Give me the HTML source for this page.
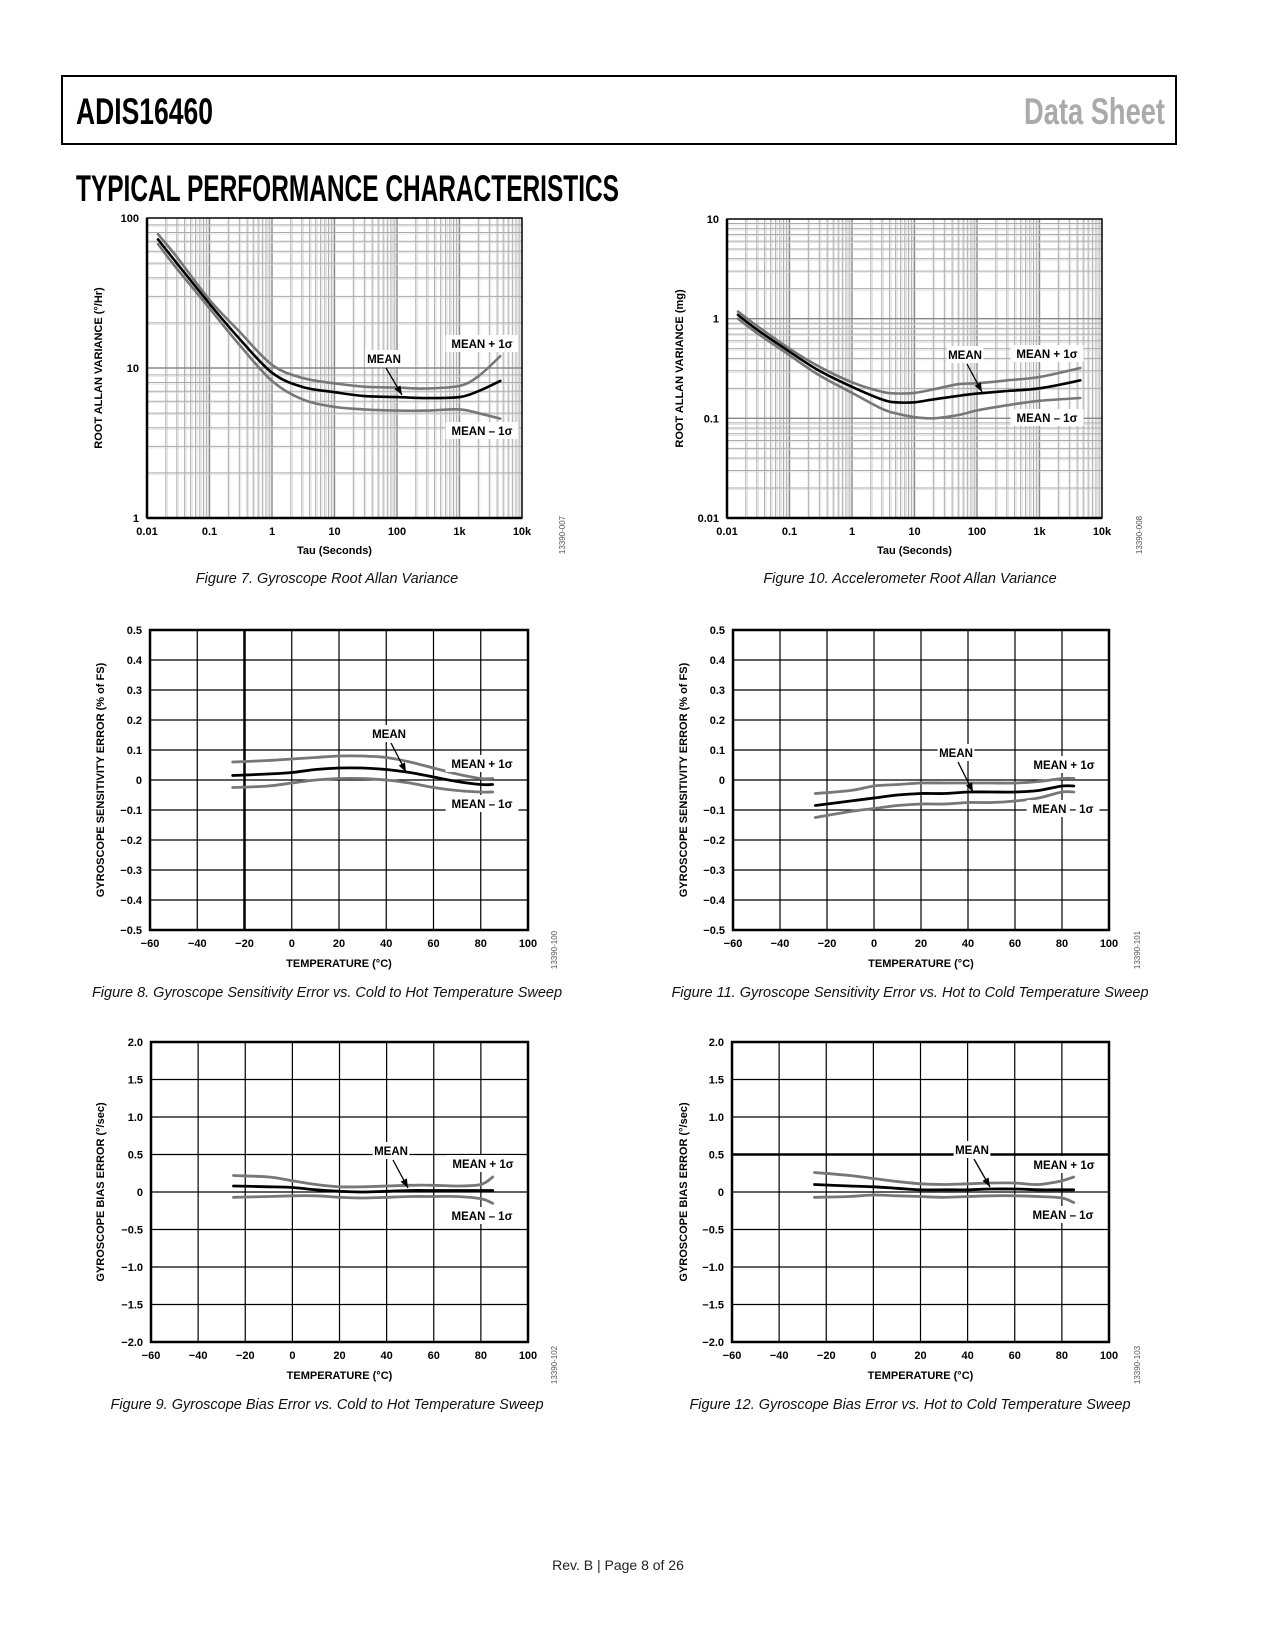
<!DOCTYPE html>
<html><head><meta charset="utf-8"><title>ADIS16460 Typical Performance Characteristics</title>
<style>
html,body{margin:0;padding:0;background:#fff;}
svg{display:block;font-family:"Liberation Sans",Arial,sans-serif;}
.tk{font-size:11px;font-weight:bold;fill:#000;}
.at{font-size:11px;font-weight:bold;fill:#000;}
.cap{font-size:14.5px;font-style:italic;fill:#111;}
.lb{font-size:11.5px;font-weight:bold;fill:#000;}
.code{font-size:8px;fill:#555;}
</style></head>
<body>
<svg id="page" width="1275" height="1650" viewBox="0 0 1275 1650" xmlns="http://www.w3.org/2000/svg">
<rect x="0" y="0" width="1275" height="1650" fill="#fff"/>
<rect x="62" y="76" width="1114" height="68" fill="none" stroke="#000" stroke-width="2"/>
<text x="76" y="124" font-size="37" font-weight="bold" textLength="137" lengthAdjust="spacingAndGlyphs">ADIS16460</text>
<text x="1024" y="124" font-size="37" font-weight="bold" fill="#aaa" textLength="141" lengthAdjust="spacingAndGlyphs">Data Sheet</text>
<text x="76" y="201" font-size="37" font-weight="bold" textLength="543" lengthAdjust="spacingAndGlyphs">TYPICAL PERFORMANCE CHARACTERISTICS</text>
<text x="618" y="1570" font-size="14" text-anchor="middle" fill="#222">Rev. B | Page 8 of 26</text>
<g id="charts"></g>
</svg>
<script>
// ---- Figure 7: gyro Allan variance ----
const f7Tau   = [0.015,0.03,0.1,0.3,1,3,10,30,100,300,1000,2000,4500];
const f7Upper = [78,55,28.5,17.5,10.5,8.6,7.9,7.5,7.4,7.3,7.6,8.8,12];
const f7Mean  = [72,50,26.8,15.7,9.3,7.5,6.9,6.5,6.4,6.3,6.4,7.0,8.2];
const f7Lower = [67,46,25,14.3,8.2,6.2,5.5,5.3,5.2,5.2,5.3,5.0,4.6];
// ---- Figure 10: accel Allan variance ----
const f10Tau   = [0.015,0.03,0.1,0.3,1,3,5,10,20,50,100,300,1000,4500];
const f10Upper = [1.18,0.85,0.5,0.33,0.23,0.185,0.178,0.18,0.195,0.22,0.225,0.24,0.26,0.32];
const f10Mean  = [1.09,0.78,0.466,0.3,0.207,0.155,0.145,0.145,0.155,0.168,0.177,0.188,0.2,0.24];
const f10Lower = [1.0,0.72,0.43,0.27,0.18,0.125,0.112,0.103,0.1,0.108,0.12,0.135,0.15,0.16];
// ---- temperature sweeps ----
const temps = [-25,-10,0,10,20,30,40,50,60,70,80,85];
const f8Upper = [0.06,0.065,0.07,0.075,0.08,0.08,0.075,0.06,0.04,0.02,0.005,0.005];
const f8Mean  = [0.015,0.02,0.025,0.035,0.04,0.04,0.035,0.025,0.01,-0.005,-0.015,-0.015];
const f8Lower = [-0.025,-0.02,-0.01,0,0.005,0.005,0,-0.01,-0.025,-0.035,-0.04,-0.04];
const f11Upper = [-0.045,-0.035,-0.02,-0.015,-0.01,-0.01,-0.01,-0.01,-0.01,-0.005,0.005,0.005];
const f11Mean  = [-0.085,-0.07,-0.06,-0.05,-0.045,-0.045,-0.04,-0.04,-0.04,-0.035,-0.02,-0.02];
const f11Lower = [-0.125,-0.105,-0.095,-0.085,-0.08,-0.08,-0.075,-0.075,-0.07,-0.06,-0.04,-0.04];
const f9Upper = [0.22,0.2,0.15,0.1,0.07,0.07,0.08,0.09,0.09,0.08,0.1,0.2];
const f9Mean  = [0.08,0.07,0.06,0.03,0.01,0,0.01,0.02,0.02,0.02,0.02,0.02];
const f9Lower = [-0.07,-0.06,-0.05,-0.05,-0.07,-0.08,-0.07,-0.06,-0.06,-0.06,-0.09,-0.15];
const f12Upper = [0.26,0.22,0.18,0.14,0.11,0.1,0.11,0.12,0.12,0.1,0.15,0.2];
const f12Mean  = [0.1,0.08,0.07,0.05,0.03,0.03,0.03,0.04,0.04,0.03,0.03,0.03];
const f12Lower = [-0.07,-0.06,-0.04,-0.05,-0.06,-0.07,-0.06,-0.05,-0.05,-0.06,-0.08,-0.14];
// tick labels
const logXTicks = ["0.01","0.1","1","10","100","1k","10k"];
const f7YTicks = ["1","10","100"];
const f10YTicks = ["0.01","0.1","1","10"];
const tempTicks = ["\u221260","\u221240","\u221220","0","20","40","60","80","100"];
const sensTicks = ["\u22120.5","\u22120.4","\u22120.3","\u22120.2","\u22120.1","0","0.1","0.2","0.3","0.4","0.5"];
const biasTicks = ["\u22122.0","\u22121.5","\u22121.0","\u22120.5","0","0.5","1.0","1.5","2.0"];

const NS="http://www.w3.org/2000/svg";
const root=document.getElementById('charts');
function mk(tag,attrs,parent){const e=document.createElementNS(NS,tag);for(const k in attrs)e.setAttribute(k,attrs[k]);(parent||root).appendChild(e);return e;}
function txt(s,attrs,parent){const e=mk('text',attrs,parent);e.textContent=s;return e;}

function series(g,xs,ys,sx,sy,color,w,name){
  const P=xs.map((x,i)=>[sx(x),sy(ys[i])]);
  let d='M'+P[0][0].toFixed(1)+','+P[0][1].toFixed(1);
  for(let i=0;i<P.length-1;i++){
    const p0=P[Math.max(0,i-1)],p1=P[i],p2=P[i+1],p3=P[Math.min(P.length-1,i+2)];
    const c1=[p1[0]+(p2[0]-p0[0])/6,p1[1]+(p2[1]-p0[1])/6];
    const c2=[p2[0]-(p3[0]-p1[0])/6,p2[1]-(p3[1]-p1[1])/6];
    d+=`C${c1[0].toFixed(1)},${c1[1].toFixed(1)} ${c2[0].toFixed(1)},${c2[1].toFixed(1)} ${p2[0].toFixed(1)},${p2[1].toFixed(1)}`;
  }
  const p=mk('path',{d:d,fill:'none',stroke:color,'stroke-width':w,'stroke-linejoin':'round','stroke-linecap':'round'},g);
  
  
}
function label(g,s,x,y,name){
  const w=s.length*7.2+8;
  mk('rect',{x:x-w/2,y:y-9,width:w,height:17,fill:'#fff'},g);
  const t=txt(s,{x:x,y:y+4,'text-anchor':'middle',class:'lb'},g);
  
  
}
function arrow(g,x1,y1,x2,y2){
  mk('line',{x1:x1,y1:y1,x2:x2,y2:y2,stroke:'#000','stroke-width':1.3},g);
  const a=Math.atan2(y2-y1,x2-x1),L=9,W=3.5;
  const bx=x2-L*Math.cos(a),by=y2-L*Math.sin(a);
  mk('polygon',{points:`${x2},${y2} ${bx-W*Math.sin(a)},${by+W*Math.cos(a)} ${bx+W*Math.sin(a)},${by-W*Math.cos(a)}`,fill:'#000'},g);
}
function texts(g,c){
  label(g,'MEAN + 1\u03c3',c.lp[0],c.lp[1],'label-mean-plus-sigma');
  label(g,'MEAN \u2013 1\u03c3',c.lm[0],c.lm[1],'label-mean-minus-sigma');
  label(g,'MEAN',c.mn[0],c.mn[1],'label-mean');
  arrow(g,c.mn[0]+2,c.mn[1]+9,c.ar[0],c.ar[1]);
}
function common(g,c,L,R,T,B){
  const xt=txt(c.xtitle,{x:(L+R)/2,y:c.xty,'text-anchor':'middle',class:'at'},g);
  
  const yt=txt(c.ytitle,{x:0,y:0,'text-anchor':'middle',class:'at',transform:`translate(${c.ytx},${(T+B)/2}) rotate(-90)`},g);
  
  const cp=txt(c.caption,{x:c.capx,y:c.capy,'text-anchor':'middle',class:'cap'},g);
  
  txt(c.code,{x:0,y:0,'text-anchor':'middle',class:'code',transform:`translate(${c.codex},${c.codey}) rotate(-90)`},g);
}

function logChart(c){
  const g=mk('g',{});
  
  
  const L=c.L,R=c.R,T=c.T,B=c.B;
  const xd=6, yd=c.yTicks.length-1;
  const sx=v=>L+(Math.log10(v)+2)/xd*(R-L);
  const sy=v=>B-(Math.log10(v)-c.yMinExp)/yd*(B-T);
  for(let d=0;d<xd;d++){for(let m=1;m<10;m++){const v=Math.pow(10,d-2)*m;const x=sx(v);
    mk('line',{x1:x,y1:T,x2:x,y2:B,stroke:m===1?'#888':'#aaa','stroke-width':m===1?1.4:1},g);
    if(m>1){mk('line',{x1:x+1.5,y1:T,x2:x+1.5,y2:B,stroke:'#d4d4d4','stroke-width':0.6},g);}}}
  for(let d=0;d<yd;d++){for(let m=1;m<10;m++){const v=Math.pow(10,d+c.yMinExp)*m;const y=sy(v);
    mk('line',{x1:L,y1:y,x2:R,y2:y,stroke:m===1?'#888':'#aaa','stroke-width':m===1?1.4:1},g);
    if(m>1){mk('line',{x1:L,y1:y+1.5,x2:R,y2:y+1.5,stroke:'#d4d4d4','stroke-width':0.6},g);}}}
  mk('rect',{x:L,y:T,width:R-L,height:B-T,fill:'none',stroke:'#000','stroke-width':1.5},g);
  mk('line',{x1:L,y1:B,x2:R,y2:B,stroke:'#000','stroke-width':2.5},g);
  mk('line',{x1:L,y1:T,x2:L,y2:B,stroke:'#000','stroke-width':2.5},g);
  logXTicks.forEach((s,i)=>{txt(s,{x:L+i*(R-L)/xd,y:B+17,'text-anchor':'middle',class:'tk'},g);});
  c.yTicks.forEach((s,i)=>{txt(s,{x:L-8,y:B-i*(B-T)/yd+4,'text-anchor':'end',class:'tk'},g);});
  series(g,c.x,c.up,sx,sy,'#777',2.6,'series-mean-plus-sigma');
  series(g,c.x,c.lo,sx,sy,'#777',2.6,'series-mean-minus-sigma');
  series(g,c.x,c.mean,sx,sy,'#000',2.6,'series-mean');
  texts(g,c);
  common(g,c,L,R,T,B);
}

function tempChart(c){
  const g=mk('g',{});
  
  
  const L=c.L,R=c.R,T=c.T,B=c.B;
  const sx=v=>L+(v+60)/160*(R-L);
  const n=c.yTicks.length-1;
  const sy=v=>B-(v-c.ymin)/(c.ymax-c.ymin)*(B-T);
  for(let i=1;i<8;i++){const x=L+i*(R-L)/8;mk('line',{x1:x,y1:T,x2:x,y2:B,stroke:'#000','stroke-width':c.thickX===i?2.5:1.2},g);}
  for(let i=1;i<n;i++){const y=B-i*(B-T)/n;mk('line',{x1:L,y1:y,x2:R,y2:y,stroke:'#000','stroke-width':c.thickY===i?2.5:1.2},g);}
  mk('rect',{x:L,y:T,width:R-L,height:B-T,fill:'none',stroke:'#000','stroke-width':2.5},g);
  tempTicks.forEach((s,i)=>{txt(s,{x:L+i*(R-L)/8,y:B+17,'text-anchor':'middle',class:'tk'},g);});
  c.yTicks.forEach((s,i)=>{txt(s,{x:L-8,y:B-i*(B-T)/n+4,'text-anchor':'end',class:'tk'},g);});
  series(g,temps,c.up,sx,sy,'#777',2.8,'series-mean-plus-sigma');
  series(g,temps,c.lo,sx,sy,'#777',2.8,'series-mean-minus-sigma');
  series(g,temps,c.mean,sx,sy,'#000',2.8,'series-mean');
  texts(g,c);
  common(g,c,L,R,T,B);
}

logChart({name:'figure-7-gyro-allan-variance',L:147,R:522,T:218,B:518,x:f7Tau,up:f7Upper,mean:f7Mean,lo:f7Lower,yTicks:f7YTicks,yMinExp:0,
  lp:[482,344],lm:[482,431],mn:[384,359],ar:[402,395],
  xtitle:'Tau (Seconds)',xty:554,ytitle:'ROOT ALLAN VARIANCE (\u00b0/Hr)',ytx:102,caption:'Figure 7. Gyroscope Root Allan Variance',capx:327,capy:583,code:'13390-007',codex:565,codey:535});
logChart({name:'figure-10-accel-allan-variance',L:727,R:1102,T:219,B:518,x:f10Tau,up:f10Upper,mean:f10Mean,lo:f10Lower,yTicks:f10YTicks,yMinExp:-2,
  lp:[1047,354],lm:[1047,418],mn:[965,355],ar:[982,392],
  xtitle:'Tau (Seconds)',xty:554,ytitle:'ROOT ALLAN VARIANCE (mg)',ytx:683,caption:'Figure 10. Accelerometer Root Allan Variance',capx:910,capy:583,code:'13390-008',codex:1142,codey:535});
tempChart({name:'figure-8-gyro-sensitivity-cold-to-hot',L:150,R:528,T:630,B:930,ymin:-0.5,ymax:0.5,yTicks:sensTicks,up:f8Upper,mean:f8Mean,lo:f8Lower,thickX:2,
  lp:[482,764],lm:[482,804],mn:[389,734],ar:[406,772],
  xtitle:'TEMPERATURE (\u00b0C)',xty:967,ytitle:'GYROSCOPE SENSITIVITY ERROR (% of FS)',ytx:104,caption:'Figure 8. Gyroscope Sensitivity Error vs. Cold to Hot Temperature Sweep',capx:327,capy:997,code:'13390-100',codex:557,codey:950});
tempChart({name:'figure-11-gyro-sensitivity-hot-to-cold',L:733,R:1109,T:630,B:930,ymin:-0.5,ymax:0.5,yTicks:sensTicks,up:f11Upper,mean:f11Mean,lo:f11Lower,
  lp:[1064,765],lm:[1063,809],mn:[956,753],ar:[973,792],
  xtitle:'TEMPERATURE (\u00b0C)',xty:967,ytitle:'GYROSCOPE SENSITIVITY ERROR (% of FS)',ytx:687,caption:'Figure 11. Gyroscope Sensitivity Error vs. Hot to Cold Temperature Sweep',capx:910,capy:997,code:'13390-101',codex:1140,codey:950});
tempChart({name:'figure-9-gyro-bias-cold-to-hot',L:151,R:528,T:1042,B:1342,ymin:-2,ymax:2,yTicks:biasTicks,up:f9Upper,mean:f9Mean,lo:f9Lower,
  lp:[483,1164],lm:[482,1216],mn:[391,1151],ar:[408,1188],
  xtitle:'TEMPERATURE (\u00b0C)',xty:1379,ytitle:'GYROSCOPE BIAS ERROR (\u00b0/sec)',ytx:104,caption:'Figure 9. Gyroscope Bias Error vs. Cold to Hot Temperature Sweep',capx:327,capy:1409,code:'13390-102',codex:557,codey:1365});
tempChart({name:'figure-12-gyro-bias-hot-to-cold',L:732,R:1109,T:1042,B:1342,ymin:-2,ymax:2,yTicks:biasTicks,up:f12Upper,mean:f12Mean,lo:f12Lower,thickY:5,
  lp:[1064,1165],lm:[1063,1215],mn:[972,1150],ar:[990,1187],
  xtitle:'TEMPERATURE (\u00b0C)',xty:1379,ytitle:'GYROSCOPE BIAS ERROR (\u00b0/sec)',ytx:687,caption:'Figure 12. Gyroscope Bias Error vs. Hot to Cold Temperature Sweep',capx:910,capy:1409,code:'13390-103',codex:1140,codey:1365});
</script>
</body></html>
